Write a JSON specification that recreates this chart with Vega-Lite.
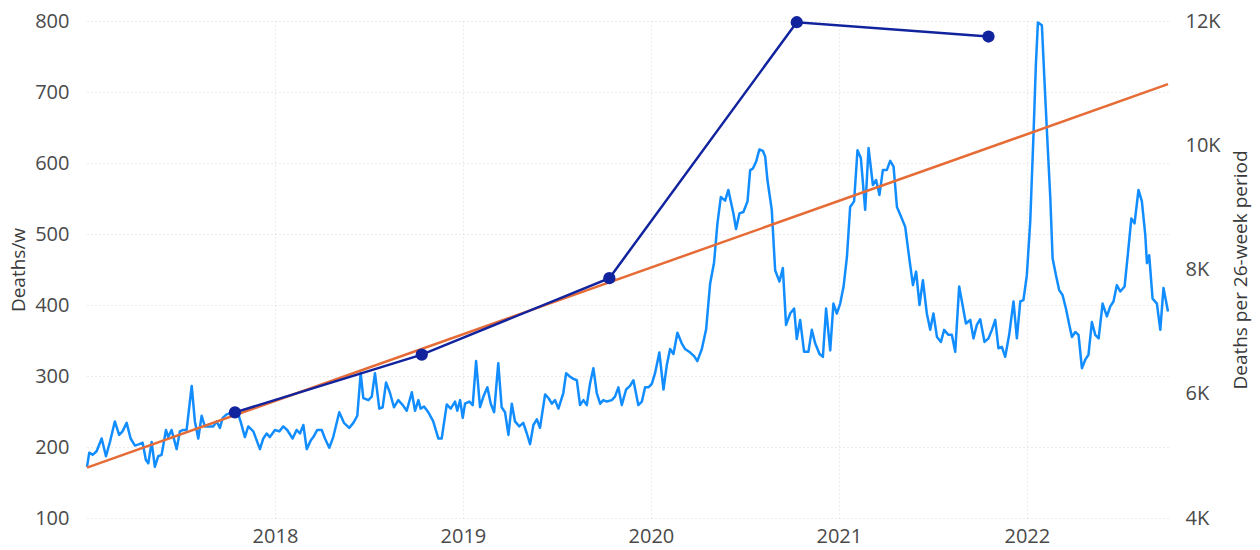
{
  "$schema": "https://vega.github.io/schema/vega-lite/v6.json",
  "width": 1081,
  "height": 497,
  "autosize": {"type": "none"},
  "padding": {"left": 87, "top": 21, "right": 92, "bottom": 32},
  "background": "white",
  "config": {
    "view": {"stroke": null},
    "font": "Open Sans",
    "axis": {"labelFont": "Open Sans", "titleFont": "Open Sans", "labelColor": "#4a4a4a", "titleColor": "#3a3a3a", "titleFontWeight": "normal"}
  },
  "datasets": {
    "weekly": [
      {"t":2017.0,"d":172},{"t":2017.012,"d":192},{"t":2017.030,"d":189},{"t":2017.051,"d":194},{"t":2017.078,"d":212},{"t":2017.101,"d":187},{"t":2017.122,"d":207},{"t":2017.148,"d":236},{"t":2017.171,"d":217},{"t":2017.189,"d":222},{"t":2017.211,"d":234},{"t":2017.232,"d":212},{"t":2017.255,"d":202},{"t":2017.278,"d":204},{"t":2017.296,"d":206},{"t":2017.313,"d":182},{"t":2017.326,"d":177},{"t":2017.344,"d":207},{"t":2017.361,"d":172},{"t":2017.379,"d":187},{"t":2017.397,"d":189},{"t":2017.420,"d":224},{"t":2017.432,"d":214},{"t":2017.450,"d":224},{"t":2017.477,"d":197},{"t":2017.494,"d":222},{"t":2017.512,"d":224},{"t":2017.530,"d":224},{"t":2017.557,"d":286},{"t":2017.574,"d":236},{"t":2017.592,"d":212},{"t":2017.610,"d":244},{"t":2017.627,"d":229},{"t":2017.645,"d":229},{"t":2017.672,"d":229},{"t":2017.690,"d":236},{"t":2017.707,"d":227},{"t":2017.722,"d":241},{"t":2017.743,"d":246},{"t":2017.778,"d":249},{"t":2017.805,"d":246},{"t":2017.817,"d":236},{"t":2017.840,"d":214},{"t":2017.858,"d":229},{"t":2017.885,"d":222},{"t":2017.920,"d":197},{"t":2017.938,"d":212},{"t":2017.956,"d":219},{"t":2017.973,"d":214},{"t":2018.000,"d":224},{"t":2018.023,"d":222},{"t":2018.044,"d":229},{"t":2018.065,"d":224},{"t":2018.094,"d":212},{"t":2018.115,"d":224},{"t":2018.133,"d":219},{"t":2018.151,"d":231},{"t":2018.169,"d":197},{"t":2018.190,"d":209},{"t":2018.204,"d":214},{"t":2018.225,"d":224},{"t":2018.249,"d":224},{"t":2018.266,"d":212},{"t":2018.289,"d":199},{"t":2018.310,"d":214},{"t":2018.342,"d":249},{"t":2018.367,"d":234},{"t":2018.395,"d":227},{"t":2018.417,"d":234},{"t":2018.438,"d":244},{"t":2018.456,"d":304},{"t":2018.470,"d":269},{"t":2018.497,"d":266},{"t":2018.515,"d":271},{"t":2018.532,"d":304},{"t":2018.555,"d":254},{"t":2018.573,"d":256},{"t":2018.591,"d":291},{"t":2018.612,"d":276},{"t":2018.633,"d":256},{"t":2018.656,"d":266},{"t":2018.680,"d":259},{"t":2018.701,"d":251},
      {"t":2018.728,"d":277},{"t":2018.745,"d":251},{"t":2018.763,"d":266},{"t":2018.775,"d":254},{"t":2018.793,"d":257},{"t":2018.816,"d":249},{"t":2018.842,"d":236},{"t":2018.869,"d":212},{"t":2018.887,"d":212},{"t":2018.914,"d":260},{"t":2018.935,"d":254},{"t":2018.958,"d":264},{"t":2018.970,"d":251},{"t":2018.985,"d":266},{"t":2018.999,"d":241},{"t":2019.011,"d":261},{"t":2019.034,"d":264},{"t":2019.052,"d":259},{"t":2019.070,"d":321},{"t":2019.091,"d":256},{"t":2019.109,"d":271},{"t":2019.130,"d":284},{"t":2019.148,"d":261},{"t":2019.166,"d":249},{"t":2019.188,"d":318},{"t":2019.206,"d":256},{"t":2019.224,"d":249},{"t":2019.242,"d":217},{"t":2019.260,"d":261},{"t":2019.277,"d":236},{"t":2019.300,"d":229},{"t":2019.321,"d":234},{"t":2019.340,"d":219},{"t":2019.357,"d":204},{"t":2019.375,"d":231},{"t":2019.393,"d":239},{"t":2019.410,"d":227},{"t":2019.437,"d":274},{"t":2019.455,"d":269},{"t":2019.473,"d":261},{"t":2019.490,"d":266},{"t":2019.508,"d":254},{"t":2019.534,"d":276},{"t":2019.549,"d":304},{"t":2019.570,"d":299},{"t":2019.588,"d":296},{"t":2019.606,"d":294},{"t":2019.623,"d":259},{"t":2019.641,"d":266},{"t":2019.659,"d":259},{"t":2019.676,"d":289},{"t":2019.694,"d":311},{"t":2019.712,"d":276},{"t":2019.730,"d":261},{"t":2019.747,"d":266},{"t":2019.765,"d":264},{"t":2019.792,"d":266},{"t":2019.809,"d":271},{"t":2019.827,"d":284},{"t":2019.845,"d":259},{"t":2019.868,"d":281},{"t":2019.889,"d":286},{"t":2019.907,"d":294},{"t":2019.933,"d":259},{"t":2019.952,"d":264},{"t":2019.969,"d":284},{"t":2019.987,"d":284},{"t":2020.005,"d":289},{"t":2020.022,"d":304},{"t":2020.045,"d":333},{"t":2020.067,"d":281},{"t":2020.085,"d":316},{"t":2020.102,"d":338},{"t":2020.120,"d":331},{"t":2020.141,"d":361},{"t":2020.164,"d":346},{"t":2020.182,"d":338},{"t":2020.209,"d":333},{"t":2020.230,"d":328},{"t":2020.247,"d":321},{"t":2020.271,"d":338},{"t":2020.294,"d":366},{"t":2020.315,"d":430},{"t":2020.336,"d":460},{"t":2020.354,"d":515},{"t":2020.372,"d":552},{"t":2020.395,"d":547},{"t":2020.412,"d":562},
      {"t":2020.439,"d":529},{"t":2020.453,"d":507},{"t":2020.471,"d":529},{"t":2020.492,"d":531},{"t":2020.514,"d":546},{"t":2020.528,"d":590},{"t":2020.542,"d":592},{"t":2020.560,"d":602},{"t":2020.577,"d":619},{"t":2020.596,"d":617},{"t":2020.608,"d":609},{"t":2020.620,"d":576},{"t":2020.643,"d":534},{"t":2020.661,"d":449},{"t":2020.684,"d":433},{"t":2020.702,"d":452},{"t":2020.719,"d":372},{"t":2020.741,"d":388},{"t":2020.762,"d":395},{"t":2020.776,"d":352},{"t":2020.794,"d":379},{"t":2020.815,"d":334},{"t":2020.838,"d":334},{"t":2020.856,"d":365},{"t":2020.874,"d":346},{"t":2020.897,"d":331},{"t":2020.915,"d":327},{"t":2020.932,"d":395},{"t":2020.954,"d":336},{"t":2020.971,"d":402},{"t":2020.989,"d":388},{"t":2021.007,"d":402},{"t":2021.025,"d":426},{"t":2021.043,"d":468},{"t":2021.060,"d":538},{"t":2021.081,"d":546},{"t":2021.099,"d":618},{"t":2021.117,"d":607},{"t":2021.140,"d":534},{"t":2021.158,"d":621},{"t":2021.181,"d":569},{"t":2021.198,"d":576},{"t":2021.216,"d":555},{"t":2021.234,"d":590},{"t":2021.255,"d":590},{"t":2021.273,"d":603},{"t":2021.291,"d":595},{"t":2021.309,"d":538},{"t":2021.330,"d":525},{"t":2021.353,"d":510},{"t":2021.371,"d":473},{"t":2021.394,"d":428},{"t":2021.411,"d":447},{"t":2021.429,"d":400},{"t":2021.447,"d":435},{"t":2021.468,"d":388},{"t":2021.486,"d":365},{"t":2021.503,"d":388},{"t":2021.522,"d":355},{"t":2021.543,"d":348},{"t":2021.560,"d":365},{"t":2021.583,"d":358},
      {"t":2021.601,"d":358},{"t":2021.619,"d":334},{"t":2021.640,"d":426},{"t":2021.658,"d":400},{"t":2021.676,"d":374},{"t":2021.699,"d":379},{"t":2021.716,"d":353},{"t":2021.734,"d":372},{"t":2021.752,"d":380},{"t":2021.775,"d":348},{"t":2021.796,"d":353},{"t":2021.814,"d":365},{"t":2021.832,"d":379},{"t":2021.849,"d":339},{"t":2021.867,"d":341},{"t":2021.885,"d":327},{"t":2021.906,"d":358},{"t":2021.929,"d":405},{"t":2021.947,"d":353},{"t":2021.965,"d":405},{"t":2021.982,"d":407},{"t":2022.000,"d":442},{"t":2022.018,"d":517},{"t":2022.036,"d":644},{"t":2022.048,"d":738},{"t":2022.059,"d":798},{"t":2022.080,"d":794},{"t":2022.094,"d":715},{"t":2022.107,"d":644},{"t":2022.125,"d":550},{"t":2022.137,"d":466},{"t":2022.155,"d":442},{"t":2022.172,"d":421},{"t":2022.190,"d":414},{"t":2022.208,"d":395},{"t":2022.226,"d":372},{"t":2022.240,"d":355},{"t":2022.258,"d":362},{"t":2022.275,"d":358},{"t":2022.293,"d":311},{"t":2022.311,"d":323},{"t":2022.328,"d":330},{"t":2022.346,"d":376},{"t":2022.364,"d":358},{"t":2022.382,"d":353},{"t":2022.403,"d":402},{"t":2022.426,"d":384},{"t":2022.444,"d":398},{"t":2022.461,"d":405},{"t":2022.479,"d":428},{"t":2022.497,"d":419},{"t":2022.520,"d":426},{"t":2022.538,"d":473},{"t":2022.556,"d":522},{"t":2022.573,"d":515},{"t":2022.594,"d":562},{"t":2022.612,"d":546},{"t":2022.630,"d":499},{"t":2022.639,"d":459},{"t":2022.651,"d":470},{"t":2022.669,"d":409},{"t":2022.692,"d":402},{"t":2022.710,"d":365},{"t":2022.727,"d":424},{"t":2022.751,"d":391}
    ],
    "trend": [
      {"t":2017.0,"d":171},
      {"t":2022.751,"d":711}
    ],
    "periods": [
      {"t":2017.787,"p":5700},
      {"t":2018.781,"p":6630},
      {"t":2019.779,"p":7860},
      {"t":2020.776,"p":11980},
      {"t":2021.796,"p":11750}
    ]
  },
  "layer": [
    {
      "layer": [
        {
          "data": {"name": "weekly"},
          "mark": {"type": "line", "color": "#118DFF", "strokeWidth": 2.5, "strokeJoin": "round"},
          "encoding": {
            "x": {"field": "t", "type": "quantitative", "scale": {"domain": [2017.0, 2022.751], "nice": false, "zero": false},
                  "axis": {"title": null, "values": [2018, 2019, 2020, 2021, 2022], "format": "d", "grid": true, "gridDash": [1, 3], "gridColor": "#d8d8d8", "domain": false, "ticks": false, "labelPadding": 8, "labelFontSize": 20}},
            "y": {"field": "d", "type": "quantitative", "scale": {"domain": [100, 800], "nice": false, "zero": false},
                  "axis": {"title": "Deaths/w", "orient": "left", "values": [100, 200, 300, 400, 500, 600, 700, 800], "grid": true, "gridDash": [1, 3], "gridColor": "#d8d8d8", "domain": false, "ticks": false, "labelPadding": 18, "labelFontSize": 20, "titleFontSize": 19, "titlePadding": 6}}
          }
        },
        {
          "data": {"name": "trend"},
          "mark": {"type": "line", "color": "#E66C37", "strokeWidth": 2.5},
          "encoding": {
            "x": {"field": "t", "type": "quantitative"},
            "y": {"field": "d", "type": "quantitative"}
          }
        }
      ]
    },
    {
      "data": {"name": "periods"},
      "mark": {"type": "line", "color": "#12239E", "strokeWidth": 2.5, "point": {"filled": true, "size": 150, "color": "#12239E"}},
      "encoding": {
        "x": {"field": "t", "type": "quantitative"},
        "y": {"field": "p", "type": "quantitative", "scale": {"domain": [4000, 12000], "nice": false, "zero": false},
              "axis": {"title": "Deaths per 26-week period", "orient": "right", "values": [4000, 6000, 8000, 10000, 12000], "labelExpr": "datum.value / 1000 + 'K'", "grid": false, "domain": false, "ticks": false, "labelPadding": 17, "labelFontSize": 20, "titleFontSize": 19, "titlePadding": 30, "titleAngle": 270}}
      }
    }
  ],
  "resolve": {"scale": {"y": "independent"}}
}
